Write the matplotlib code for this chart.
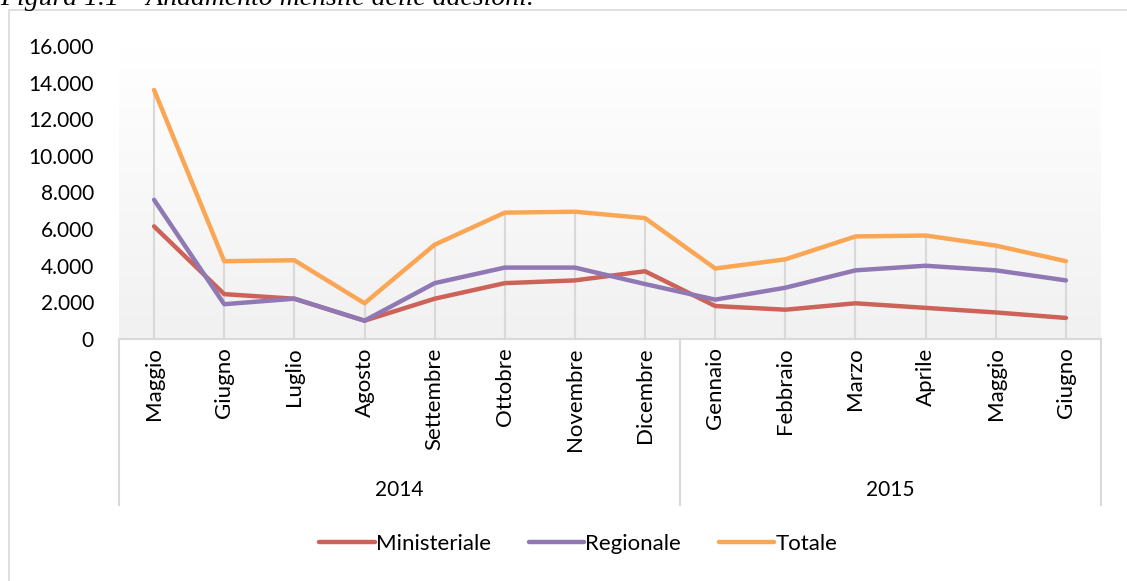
import matplotlib
matplotlib.use('Agg')
import matplotlib.pyplot as plt
import matplotlib.transforms as mtransforms
from matplotlib.colors import LinearSegmentedColormap
from matplotlib.patches import Rectangle
from matplotlib.lines import Line2D
import numpy as np

# Dati
mesi = ['Maggio', 'Giugno', 'Luglio', 'Agosto', 'Settembre', 'Ottobre', 'Novembre',
        'Dicembre', 'Gennaio', 'Febbraio', 'Marzo', 'Aprile', 'Maggio', 'Giugno']
anni = ['2014', '2015']
mesi_per_anno = [8, 6]

ministeriale = [6150, 2450, 2200, 1000, 2200, 3050, 3200, 3700, 1800, 1600, 1950, 1700, 1450, 1150]
regionale = [7600, 1900, 2200, 1000, 3050, 3900, 3900, 3000, 2150, 2800, 3750, 4000, 3750, 3200]
totale = [13600, 4250, 4300, 1950, 5150, 6900, 6950, 6600, 3850, 4350, 5600, 5650, 5100, 4250]

colori = {'Ministeriale': '#CD6259', 'Regionale': '#8F78B3', 'Totale': '#FBA654'}
grigio = '#D9D9D9'

plt.rcParams['font.family'] = ['Lato', 'DejaVu Sans']
plt.rcParams['font.size'] = 15

W, H = 1127, 581
fig = plt.figure(figsize=(W / 100, H / 100), dpi=100)
ax = fig.add_axes([119 / W, 1 - 339 / H, (1101 - 119) / W, (339 - 46) / H])

x = np.arange(len(mesi))

# sfondo sfumato dell'area del grafico
cmap = LinearSegmentedColormap.from_list('sfondo', ['#F1F1F1', '#FFFFFF'])
grad = np.linspace(0, 1, 256).reshape(-1, 1)
ax.imshow(grad, extent=[-0.5, len(mesi) - 0.5, 0, 16000], origin='lower',
          aspect='auto', cmap=cmap, zorder=0)

# linee di riferimento verticali
ax.vlines(x, 0, totale, color=grigio, lw=1.5, zorder=1)

ax.plot(x, ministeriale, color=colori['Ministeriale'], lw=3.2, label='Ministeriale',
        solid_capstyle='round', zorder=3)
ax.plot(x, regionale, color=colori['Regionale'], lw=3.2, label='Regionale',
        solid_capstyle='round', zorder=3)
ax.plot(x, totale, color=colori['Totale'], lw=3.2, label='Totale',
        solid_capstyle='round', zorder=3)

ax.set_xlim(-0.5, len(mesi) - 0.5)
ax.set_ylim(0, 16000)
ax.set_yticks(np.arange(0, 16001, 2000))
ax.set_yticklabels([f'{v:,}'.replace(',', '.') for v in range(0, 16001, 2000)])
ax.set_xticks(x)
ax.set_xticklabels(mesi, rotation=90, va='top', ha='center', fontsize=16)
ax.tick_params(axis='y', length=0, pad=18)
ax.tick_params(axis='x', length=0, pad=6)

for lato in ['left', 'top', 'right']:
    ax.spines[lato].set_visible(False)
ax.spines['bottom'].set_color(grigio)
ax.spines['bottom'].set_linewidth(1.5)

# asse a due livelli: separatori e anni
trans = mtransforms.blended_transform_factory(ax.transData, fig.transFigure)
y_top = 1 - 339 / H
y_bot = 1 - 505 / H
confini = [-0.5]
for n in mesi_per_anno:
    confini.append(confini[-1] + n)
for c in confini:
    fig.add_artist(Line2D([c, c], [y_top, y_bot], transform=trans, color=grigio, lw=1.5))
for i, anno in enumerate(anni):
    centro = (confini[i] + confini[i + 1]) / 2
    fig.text(centro, 1 - 490 / H, anno, transform=trans, ha='center', va='center', fontsize=15)

# cornice del grafico
fig.add_artist(Rectangle((9 / W, -0.1), 1.2, 1 - 10 / H + 0.1, transform=fig.transFigure,
                         facecolor='none', edgecolor=grigio, lw=1.2))

# didascalia tagliata in alto
fig.text(0, 1 - 5 / H, 'Figura 1.1 – Andamento mensile delle adesioni.',
         family='Liberation Serif', style='italic', fontsize=20, va='baseline', ha='left')

fig.legend(loc='center', bbox_to_anchor=(0.513, 1 - 544 / H), ncol=3, frameon=False,
           handlelength=2.5, handletextpad=0.05, columnspacing=1.7, fontsize=16)

fig.savefig('out.png', dpi=100, facecolor='white')
plt.close(fig)
